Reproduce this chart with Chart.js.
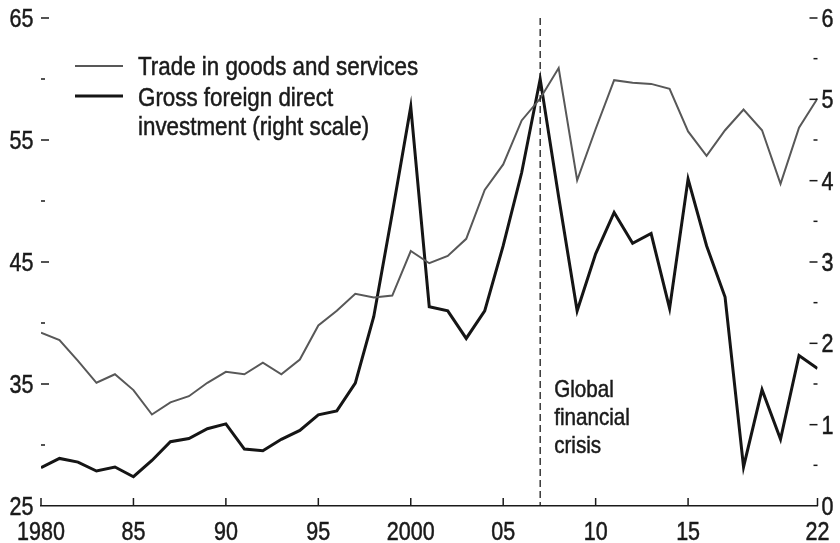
<!DOCTYPE html>
<html>
<head>
<meta charset="utf-8">
<script src="https://cdn.jsdelivr.net/npm/chart.js@4.4.1/dist/chart.umd.min.js"></script>
<style>
  html, body { margin: 0; padding: 0; background: #fff; }
  #wrap { width: 840px; height: 543px; position: relative; }
</style>
</head>
<body>
<div id="wrap"><canvas id="tradeChart"></canvas></div>
<script>
// data
const years = [1980, 1981, 1982, 1983, 1984, 1985, 1986, 1987, 1988, 1989,
  1990, 1991, 1992, 1993, 1994, 1995, 1996, 1997, 1998, 1999,
  2000, 2001, 2002, 2003, 2004, 2005, 2006, 2007, 2008, 2009,
  2010, 2011, 2012, 2013, 2014, 2015, 2016, 2017, 2018, 2019,
  2020, 2021, 2022];

// trade in goods and services, left scale
const trade = [39.2, 38.6, 36.9, 35.1, 35.8, 34.5, 32.5, 33.5, 34.0, 35.1,
  36.0, 35.8, 36.75, 35.8, 37.0, 39.8, 41.0, 42.4, 42.1, 42.25,
  45.9, 44.9, 45.5, 46.9, 50.9, 53.0, 56.6, 58.4, 60.9, 51.7,
  55.9, 59.9, 59.7, 59.6, 59.2, 55.7, 53.7, 55.8, 57.5, 55.8,
  51.4, 56.0, 58.4];

// gross foreign direct investment, right scale
const fdi = [0.47, 0.585, 0.54, 0.43, 0.48, 0.36, 0.56, 0.79, 0.83, 0.95,
  1.01, 0.70, 0.68, 0.82, 0.93, 1.12, 1.17, 1.51, 2.33, 3.6,
  4.91, 2.45, 2.40, 2.06, 2.40, 3.2, 4.1, 5.25, 3.8, 2.40,
  3.1, 3.61, 3.23, 3.35, 2.43, 4.02, 3.2, 2.57, 0.48, 1.43,
  0.82, 1.85, 1.69];

const xTickYears = [1980, 1985, 1990, 1995, 2000, 2005, 2010, 2015, 2022];
const xTickLabels = ['1980', '85', '90', '95', '2000', '05', '10', '15', '22'];
const leftLabels = [25, 35, 45, 55, 65];
const leftMinor = [30, 40, 50, 60];
const rightLabels = [0, 1, 2, 3, 4, 5, 6];
const rightMinor = [0.5, 1.5, 2.5, 3.5, 4.5, 5.5];

const tradeLabel = ['Trade in goods and services'];
const fdiLabel = ['Gross foreign direct', 'investment (right scale)'];
const crisisYear = 2007;
const crisisLabel = ['Global', 'financial', 'crisis'];

// no narrow font installed, so Liberation Sans gets squeezed sideways
const FONT = '"Liberation Sans", Arial, sans-serif';
const SQUEEZE = 0.86;
const INK = '#1a1a1a';

const toPoints = vals => vals.map((v, i) => ({ x: years[i], y: v }));

function narrowText(ctx, text, x, y, size, align) {
  ctx.save();
  ctx.translate(x, y);
  ctx.scale(SQUEEZE, 1);
  ctx.font = size + 'px ' + FONT;
  ctx.textAlign = align;
  ctx.textBaseline = 'alphabetic';
  ctx.fillStyle = INK;
  ctx.strokeStyle = INK;
  ctx.lineWidth = 0.5;
  ctx.fillText(text, 0, 0);
  ctx.strokeText(text, 0, 0);
  ctx.restore();
}

// tick marks, tick labels, legend and the crisis marker
const extras = {
  id: 'extras',
  afterDraw(chart) {
    const { ctx, chartArea: a, scales } = chart;
    const x = scales.x, yL = scales.yL, yR = scales.yR;
    ctx.save();
    ctx.strokeStyle = INK;
    ctx.lineWidth = 1.5;

    const seg = (x1, y1, x2, y2) => {
      ctx.beginPath(); ctx.moveTo(x1, y1); ctx.lineTo(x2, y2); ctx.stroke();
    };

    xTickYears.forEach((v, i) => {
      const px = x.getPixelForValue(v);
      seg(px, a.bottom, px, a.bottom - 8);
      narrowText(ctx, xTickLabels[i], px, 540, 25, 'center');
    });
    leftLabels.forEach(v => {
      const py = yL.getPixelForValue(v);
      if (v !== yL.min) seg(a.left, py, a.left + 8, py);
      narrowText(ctx, String(v), a.left - 7.5, py + 9, 25, 'right');
    });
    leftMinor.forEach(v => seg(a.left, yL.getPixelForValue(v), a.left + 4, yL.getPixelForValue(v)));
    rightLabels.forEach(v => {
      const py = yR.getPixelForValue(v);
      if (v !== yR.min) seg(a.right - 8, py, a.right, py);
      narrowText(ctx, String(v), a.right + 4, py + 9, 25, 'left');
    });
    rightMinor.forEach(v => seg(a.right - 4, yR.getPixelForValue(v), a.right, yR.getPixelForValue(v)));

    // crisis line
    const cx = x.getPixelForValue(crisisYear);
    ctx.setLineDash([7, 4]);
    ctx.lineWidth = 1.3;
    seg(cx, a.top, cx, a.bottom);
    ctx.setLineDash([]);
    crisisLabel.forEach((t, i) => narrowText(ctx, t, cx + 14, 397 + i * 28, 24, 'left'));

    // legend
    const ds = chart.data.datasets;
    const items = [{ d: ds[0], lineY: 66, base: 75 }, { d: ds[1], lineY: 96, base: 106 }];
    items.forEach(it => {
      ctx.strokeStyle = it.d.borderColor;
      ctx.lineWidth = it.d.borderWidth;
      seg(75, it.lineY, 123, it.lineY);
      it.d.label.forEach((t, i) => narrowText(ctx, t, 138, it.base + i * 29, 26, 'left'));
    });
    ctx.restore();
  }
};

new Chart(document.getElementById('tradeChart'), {
  type: 'line',
  data: {
    datasets: [
      { label: tradeLabel, data: toPoints(trade), yAxisID: 'yL',
        borderColor: '#585858', borderWidth: 2, pointRadius: 0, tension: 0 },
      { label: fdiLabel, data: toPoints(fdi), yAxisID: 'yR',
        borderColor: '#151515', borderWidth: 3, pointRadius: 0, tension: 0 }
    ]
  },
  options: {
    responsive: true,
    maintainAspectRatio: false,
    animation: false,
    layout: { padding: { top: 18, right: 0, bottom: 0, left: 0 } },
    plugins: { legend: { display: false }, tooltip: { enabled: false } },
    scales: {
      x: {
        type: 'linear', min: 1980, max: 2022,
        afterBuildTicks: s => { s.ticks = xTickYears.map(v => ({ value: v })); },
        afterFit: s => { s.height = 37; },
        grid: { display: false, drawTicks: false },
        border: { display: true, color: INK, width: 1.5 },
        ticks: { display: false }
      },
      yL: {
        position: 'left', min: 25, max: 65,
        afterFit: s => { s.width = 41; },
        grid: { display: false, drawTicks: false },
        border: { display: false },
        ticks: { display: false, stepSize: 10 }
      },
      yR: {
        position: 'right', min: 0, max: 6,
        afterFit: s => { s.width = 22.5; },
        grid: { display: false, drawTicks: false },
        border: { display: false },
        ticks: { display: false, stepSize: 1 }
      }
    }
  },
  plugins: [extras]
});
</script>
</body>
</html>
